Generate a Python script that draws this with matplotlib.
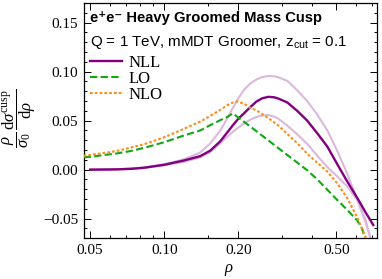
import matplotlib
matplotlib.use("Agg")
import matplotlib.pyplot as plt
from matplotlib.ticker import FixedLocator, FixedFormatter, NullFormatter

plt.rcParams['font.family'] = ['Liberation Serif', 'DejaVu Serif']
plt.rcParams['mathtext.fontset'] = 'custom'
plt.rcParams['mathtext.rm'] = 'Liberation Serif'
plt.rcParams['mathtext.it'] = 'Liberation Serif:italic'
plt.rcParams['mathtext.sf'] = 'Liberation Sans'

# NLL central curve
rho_nll = [0.05, 0.055, 0.064, 0.073, 0.083, 0.10, 0.12, 0.14, 0.154, 0.169,
           0.181, 0.191, 0.20, 0.212, 0.224, 0.237, 0.25, 0.265, 0.28, 0.291,
           0.316, 0.347, 0.381, 0.419, 0.46, 0.505, 0.554, 0.609, 0.656, 0.707]
nll = [0.0, 0.0001, 0.0003, 0.0008, 0.002, 0.005, 0.0093, 0.0138, 0.0195, 0.029,
       0.0385, 0.046, 0.052, 0.058, 0.064, 0.0695, 0.0728, 0.0743, 0.0738, 0.0725,
       0.0686, 0.060, 0.050, 0.037, 0.0235, 0.0055, -0.012, -0.029, -0.043, -0.0565]

# NLL scale variation band edges
rho_band = [0.05, 0.064, 0.083, 0.10, 0.12, 0.14, 0.154, 0.169, 0.181, 0.189,
            0.20, 0.212, 0.224, 0.237, 0.25, 0.265, 0.28, 0.291, 0.316, 0.347,
            0.381, 0.419, 0.46, 0.505, 0.554, 0.609, 0.656, 0.686]
nll_up = [0.0, 0.0003, 0.0022, 0.0055, 0.0105, 0.0175, 0.027, 0.040, 0.053, 0.062,
          0.073, 0.082, 0.088, 0.092, 0.0945, 0.0955, 0.0952, 0.0942, 0.0906, 0.081,
          0.070, 0.056, 0.040, 0.019, -0.004, -0.031, -0.053, -0.068]
nll_lo = [0.0, 0.0003, 0.0018, 0.0045, 0.008, 0.0125, 0.018, 0.027, 0.034, 0.038,
          0.043, 0.0475, 0.051, 0.0538, 0.0553, 0.0557, 0.054, 0.052, 0.045, 0.036,
          0.0264, 0.014, 0.0026, -0.007, -0.017, -0.031, -0.050, -0.069]

# LO
rho_lo = [0.047, 0.05, 0.055, 0.064, 0.073, 0.083, 0.10, 0.12, 0.14, 0.154,
          0.169, 0.181, 0.190, 0.20, 0.224, 0.265, 0.316, 0.381, 0.419, 0.46,
          0.505, 0.554, 0.609, 0.636, 0.655]
lo = [0.0127, 0.013, 0.0145, 0.0165, 0.019, 0.0223, 0.028, 0.0348, 0.040, 0.0455,
      0.0505, 0.054, 0.0574, 0.0531, 0.0439, 0.0298, 0.015, -0.0006, -0.010, -0.0205,
      -0.031, -0.041, -0.052, -0.060, -0.070]

# NLO
rho_nlo = [0.047, 0.05, 0.055, 0.064, 0.073, 0.083, 0.10, 0.12, 0.14, 0.154,
           0.169, 0.181, 0.19, 0.199, 0.212, 0.224, 0.237, 0.265, 0.291, 0.316,
           0.347, 0.381, 0.419, 0.46, 0.505, 0.554, 0.609, 0.656, 0.66]
nlo = [0.0143, 0.015, 0.0165, 0.019, 0.0225, 0.026, 0.033, 0.0416, 0.049, 0.055,
       0.061, 0.066, 0.0685, 0.0695, 0.067, 0.063, 0.0605, 0.0525, 0.045, 0.0365,
       0.027, 0.0162, 0.007, -0.002, -0.014, -0.029, -0.049, -0.068, -0.070]

xticks = [0.05, 0.10, 0.20, 0.50]
xticklabels = ["0.05", "0.10", "0.20", "0.50"]
xminor = [0.06, 0.07, 0.08, 0.09, 0.15, 0.3, 0.4, 0.6, 0.7]
yticks = [-0.05, 0.0, 0.05, 0.10, 0.15]
yticklabels = ["\u22120.05", "0.00", "0.05", "0.10", "0.15"]

purple = '#800080'
light = '#DCB8DC'
green = '#10A810'
orange = '#FF8C1A'

fig = plt.figure(figsize=(3.82, 2.79), dpi=100)
ax = fig.add_axes([84/382, 1-238/279, 293/382, 235/279])

ax.plot(rho_band, nll_up, color=light, lw=1.5, zorder=1)
ax.plot(rho_band, nll_lo, color=light, lw=1.5, zorder=1)
ax.plot(rho_nll, nll, color=purple, lw=1.7, zorder=3, label='NLL')
ax.plot(rho_lo, lo, color=green, lw=1.5, ls=(0, (3.5, 1.6)), zorder=4, label='LO')
ax.plot(rho_nlo, nlo, color=orange, lw=1.5, ls=(0, (1.3, 1.0)),
        dash_capstyle='butt', zorder=5, label='NLO')

ax.set_xscale('log')
ax.set_xlim(0.0472, 0.732)
ax.set_ylim(-0.0697, 0.170)

ax.xaxis.set_major_locator(FixedLocator(xticks))
ax.xaxis.set_major_formatter(FixedFormatter(xticklabels))
ax.xaxis.set_minor_locator(FixedLocator(xminor))
ax.xaxis.set_minor_formatter(NullFormatter())
ax.yaxis.set_major_locator(FixedLocator(yticks))
ax.yaxis.set_major_formatter(FixedFormatter(yticklabels))
ax.yaxis.set_minor_locator(FixedLocator([i / 100 for i in range(-6, 17)]))

ax.tick_params(which='both', direction='in', top=True, right=True, width=0.7,
               labelsize=11, colors='black')
ax.tick_params(which='major', length=5, pad=4)
ax.tick_params(which='minor', length=2.5)
for s in ax.spines.values():
    s.set_linewidth(0.9)

ax.set_xlabel(r'$\rho$', fontsize=12)
ax.xaxis.set_label_coords(0.495, -0.10)
ax.set_ylabel(r'$\dfrac{\rho}{\sigma_0}\,\dfrac{\mathrm{d}\sigma^{\mathrm{cusp}}}{\mathrm{d}\rho}$',
              fontsize=12)
ax.yaxis.set_label_coords(-0.158, 0.51)

ax.text(0.02, 0.936, "e\u207ae\u207b Heavy Groomed Mass Cusp", transform=ax.transAxes,
        fontsize=10.6, fontweight='bold', family=['Liberation Sans', 'DejaVu Sans'],
        va='center', ha='left')
ax.text(0.02, 0.834, r"Q = 1 TeV, mMDT Groomer, z$_{\mathsf{cut}}$ = 0.1",
        transform=ax.transAxes, fontsize=10.9, family=['Liberation Sans', 'DejaVu Sans'],
        va='center', ha='left')

ax.legend(loc='upper left', bbox_to_anchor=(0.0205, 0.78), frameon=False,
          fontsize=12, handlelength=1.9, handletextpad=0.42, labelspacing=0.0,
          borderaxespad=0.0, borderpad=0.0)

fig.savefig('out.png', dpi=100)
